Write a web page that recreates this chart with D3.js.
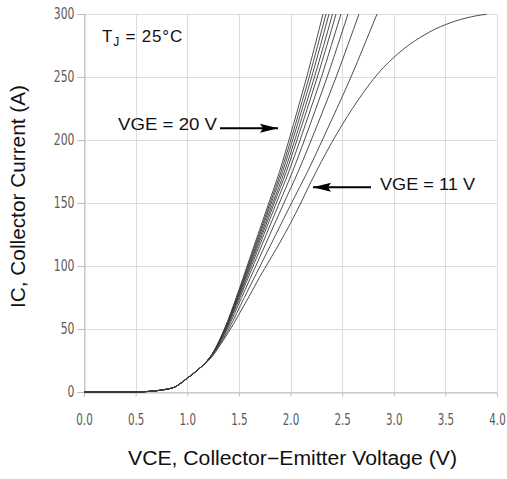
<!DOCTYPE html>
<html>
<head>
<meta charset="utf-8">
<script src="https://cdn.jsdelivr.net/npm/d3@7"></script>
<style>
  html, body { margin: 0; padding: 0; background: #fff; }
  svg { display: block; }
</style>
</head>
<body>
<svg id="chart" width="507" height="479"></svg>
<script>
// Output characteristics, TJ = 25 °C: IC versus VCE for VGE = 11 … 20 V

// Shared knee below ~21 A (all gate voltages overlap here)
const kneeVce = [0, 0.5, 0.6, 0.7, 0.8, 0.88, 0.93, 0.97, 1.0, 1.05, 1.1, 1.15];
const kneeIc  = [0, 0, 0.3, 1.0, 2.2, 4.0, 6.5, 9.0, 11, 14, 17.5, 21];

// Collector-current levels (A) at which VCE is listed for VGE = 12 … 20 V
const icLevels = [30, 50, 75, 100, 125, 150, 175, 200, 225, 250, 275, 300];

const vce20 = [1.240, 1.360, 1.475, 1.580, 1.685, 1.790, 1.894, 1.985, 2.072, 2.157, 2.237, 2.315];
const vce19 = [1.241, 1.362, 1.479, 1.587, 1.695, 1.802, 1.909, 2.003, 2.093, 2.181, 2.263, 2.344];
const vce18 = [1.241, 1.365, 1.484, 1.594, 1.704, 1.814, 1.924, 2.021, 2.114, 2.205, 2.290, 2.373];
const vce17 = [1.242, 1.367, 1.489, 1.602, 1.715, 1.829, 1.942, 2.042, 2.138, 2.232, 2.321, 2.407];
const vce16 = [1.243, 1.370, 1.494, 1.610, 1.727, 1.843, 1.960, 2.063, 2.163, 2.260, 2.352, 2.441];
const vce15 = [1.243, 1.374, 1.501, 1.622, 1.742, 1.863, 1.984, 2.093, 2.197, 2.300, 2.395, 2.489];
const vce14 = [1.245, 1.379, 1.511, 1.638, 1.765, 1.892, 2.020, 2.135, 2.246, 2.355, 2.457, 2.557];
const vce13 = [1.247, 1.388, 1.527, 1.664, 1.800, 1.936, 2.075, 2.201, 2.323, 2.442, 2.554, 2.663];
const vce12 = [1.250, 1.402, 1.553, 1.706, 1.858, 2.010, 2.166, 2.309, 2.449, 2.586, 2.713, 2.838];

// VGE = 11 V saturates, so it is listed as IC at fixed VCE steps
const vce11 = [1.26, 1.3, 1.4, 1.5, 1.6, 1.7, 1.8, 1.9, 2.0, 2.1, 2.2, 2.3, 2.4, 2.5, 2.6, 2.7, 2.8, 2.9, 3.0, 3.1, 3.2, 3.3, 3.4, 3.5, 3.6, 3.7, 3.8, 3.9];
const ic11  = [30, 35, 47.5, 61.5, 76, 91, 105, 119, 134, 150, 167, 183, 198, 212, 225, 237, 248, 257.5, 265.5, 272.5, 278.5, 283.5, 288, 291.5, 294.5, 296.8, 298.6, 299.8];

// Axis ticks
const xTicks = [0.0, 0.5, 1.0, 1.5, 2.0, 2.5, 3.0, 3.5, 4.0];
const yTicks = [0, 50, 100, 150, 200, 250, 300];

const svg = d3.select("#chart");
const plot = { left: 84, right: 497, top: 14, bottom: 392 };

const x = d3.scaleLinear().domain([0, 4]).range([plot.left, plot.right]);
const y = d3.scaleLinear().domain([0, 300]).range([plot.bottom, plot.top]);

const tickFont = "'Liberation Sans Narrow', 'DejaVu Sans Condensed', 'Liberation Sans', sans-serif";
const textFont = "'Liberation Sans', Arial, Helvetica, sans-serif";

// Grid
const grid = svg.append("g").attr("stroke", "#dcdcdc").attr("stroke-width", 1).attr("shape-rendering", "crispEdges");
grid.selectAll("line.v").data(xTicks).join("line")
  .attr("x1", d => Math.round(x(d)) + 0.5).attr("x2", d => Math.round(x(d)) + 0.5)
  .attr("y1", plot.top).attr("y2", plot.bottom);
grid.selectAll("line.h").data(yTicks).join("line")
  .attr("x1", plot.left).attr("x2", plot.right)
  .attr("y1", d => Math.round(y(d)) + 0.5).attr("y2", d => Math.round(y(d)) + 0.5);

// Axes
const xAxis = svg.append("g")
  .attr("transform", `translate(0,${plot.bottom + 0.5})`)
  .call(d3.axisBottom(x).tickValues(xTicks).tickFormat(d3.format(".1f")).tickSize(4).tickPadding(17));
const yAxis = svg.append("g")
  .attr("transform", `translate(${plot.left + 0.5},0)`)
  .call(d3.axisLeft(y).tickValues(yTicks).tickFormat(d3.format("d")).tickSize(7).tickPadding(3));

// Narrow tick numerals: each digit about 6.9 px wide, the point about 2.6 px
const narrowWidth = s => Array.from(s).reduce((w, c) => w + (c === "." ? 2.6 : 6.9), 0);

[xAxis, yAxis].forEach(g => {
  g.select(".domain").attr("stroke", "#bdbdbd");
  g.selectAll(".tick line").attr("stroke", "#bdbdbd");
  g.selectAll(".tick text")
    .attr("fill", "#5a5a5a")
    .style("font-family", tickFont)
    .style("font-size", "15.5px")
    .attr("textLength", function () { return narrowWidth(this.textContent); })
    .attr("lengthAdjust", "spacingAndGlyphs");
});

// Curves
const line = d3.line()
  .x(d => x(d[0]))
  .y(d => y(d[1]))
  .curve(d3.curveMonotoneX);

const knee = kneeVce.map((v, i) => [v, kneeIc[i]]);
const straightSeries = [vce20, vce19, vce18, vce17, vce16, vce15, vce14, vce13, vce12];
const curves = straightSeries.map(vs => knee.concat(vs.map((v, i) => [v, icLevels[i]])));
curves.push(knee.concat(vce11.map((v, i) => [v, ic11[i]])));

svg.append("defs").append("clipPath").attr("id", "plotClip")
  .append("rect")
  .attr("x", plot.left).attr("y", plot.top - 1)
  .attr("width", plot.right - plot.left).attr("height", plot.bottom - plot.top + 2);

svg.append("g").attr("clip-path", "url(#plotClip)")
  .selectAll("path").data(curves).join("path")
  .attr("d", line)
  .attr("fill", "none")
  .attr("stroke", "#3a3a3a")
  .attr("stroke-width", 0.9);

// Annotations
svg.append("text")
  .attr("x", 102).attr("y", 42)
  .style("font-family", textFont).style("font-size", "17px").style("letter-spacing", "0.8px").attr("fill", "#111")
  .call(t => {
    t.append("tspan").text("T");
    t.append("tspan").attr("dy", 4).style("font-size", "12px").text("J");
    t.append("tspan").attr("dy", -4).text(" = 25°C");
  });

svg.append("defs").append("marker")
  .attr("id", "arrowHead")
  .attr("viewBox", "0 0 18 10")
  .attr("refX", 18).attr("refY", 5)
  .attr("markerWidth", 18).attr("markerHeight", 10)
  .attr("markerUnits", "userSpaceOnUse")
  .attr("orient", "auto")
  .append("path").attr("d", "M0,0.5 L18,5 L0,9.5 L3,5 Z").attr("fill", "#000");

svg.append("text")
  .attr("x", 118).attr("y", 130)
  .attr("textLength", 99).attr("lengthAdjust", "spacingAndGlyphs")
  .style("font-family", textFont).style("font-size", "16.5px").attr("fill", "#111")
  .text("VGE = 20 V");
svg.append("line")
  .attr("x1", 220).attr("y1", 128.3).attr("x2", 278).attr("y2", 128.3)
  .attr("stroke", "#000").attr("stroke-width", 2)
  .attr("marker-end", "url(#arrowHead)");

svg.append("text")
  .attr("x", 380).attr("y", 190)
  .attr("textLength", 95).attr("lengthAdjust", "spacingAndGlyphs")
  .style("font-family", textFont).style("font-size", "16.5px").attr("fill", "#111")
  .text("VGE = 11 V");
svg.append("line")
  .attr("x1", 371).attr("y1", 187.3).attr("x2", 313).attr("y2", 187.3)
  .attr("stroke", "#000").attr("stroke-width", 2)
  .attr("marker-end", "url(#arrowHead)");

// Axis titles
svg.append("text")
  .attr("x", 292.5).attr("y", 465)
  .attr("text-anchor", "middle")
  .attr("textLength", 329).attr("lengthAdjust", "spacingAndGlyphs")
  .style("font-family", textFont).style("font-size", "19.5px").attr("fill", "#111")
  .text("VCE, Collector\u2212Emitter Voltage (V)");

svg.append("text")
  .attr("transform", "translate(25,196.5) rotate(-90)")
  .attr("text-anchor", "middle")
  .attr("textLength", 223).attr("lengthAdjust", "spacingAndGlyphs")
  .style("font-family", textFont).style("font-size", "20px").attr("fill", "#111")
  .text("IC, Collector Current (A)");
</script>
</body>
</html>
